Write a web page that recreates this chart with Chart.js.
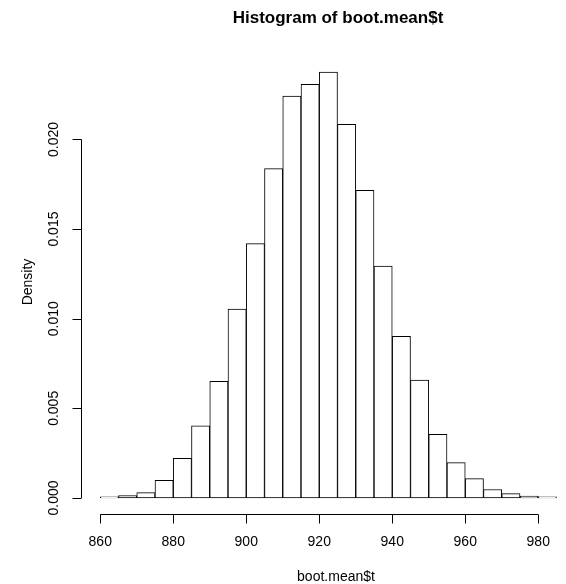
<!DOCTYPE html>
<html>
<head>
<meta charset="utf-8">
<script src="https://cdn.jsdelivr.net/npm/chart.js@4.4.0/dist/chart.umd.min.js"></script>
<style>
  html, body { margin: 0; padding: 0; background: #fff; overflow: hidden; }
  canvas { display: block; }
</style>
</head>
<body>
<canvas id="hist" width="566" height="584"></canvas>
<script>
// bin centres (width 5) and densities
var binCenters = [862.5, 867.5, 872.5, 877.5, 882.5, 887.5, 892.5, 897.5, 902.5, 907.5,
                  912.5, 917.5, 922.5, 927.5, 932.5, 937.5, 942.5, 947.5, 952.5, 957.5,
                  962.5, 967.5, 972.5, 977.5, 982.5];
var density = [0.00006, 0.00013, 0.0003, 0.00099, 0.00221, 0.00402, 0.00651, 0.01054, 0.01419, 0.01837,
               0.02242, 0.02307, 0.02376, 0.02084, 0.01716, 0.01294, 0.00902, 0.00658, 0.00355, 0.00197,
               0.00108, 0.00047, 0.00024, 0.0001, 0.00006];
var xTicks = [860, 880, 900, 920, 940, 960, 980];
var yTicks = [0.000, 0.005, 0.010, 0.015, 0.020];
var yTickLabels = ['0.000', '0.005', '0.010', '0.015', '0.020'];

var FONT = '"Liberation Sans", Arial, Helvetica, sans-serif';

var points = [];
for (var i = 0; i < binCenters.length; i++) {
    points.push({x: binCenters[i], y: density[i]});
}

// R style axes, drawn from the chart scales
var rAxes = {
    id: 'rAxes',
    afterDraw: function (chart) {
        var ctx = chart.ctx;
        var xs = chart.scales.x;
        var ys = chart.scales.y;
        var area = chart.chartArea;
        ctx.save();
        ctx.strokeStyle = '#000';
        ctx.fillStyle = '#000';
        ctx.lineWidth = 1;

        // x axis
        var yAx = Math.round(area.bottom) - 0.5;
        ctx.beginPath();
        ctx.moveTo(xs.getPixelForValue(xTicks[0]), yAx);
        ctx.lineTo(xs.getPixelForValue(xTicks[xTicks.length - 1]), yAx);
        xTicks.forEach(function (t) {
            var px = Math.round(xs.getPixelForValue(t)) + 0.5;
            ctx.moveTo(px, yAx);
            ctx.lineTo(px, yAx + 9);
        });
        ctx.stroke();
        ctx.font = '14px ' + FONT;
        ctx.textAlign = 'center';
        ctx.textBaseline = 'middle';
        xTicks.forEach(function (t) {
            ctx.fillText(String(t), xs.getPixelForValue(t), 542);
        });

        // y axis
        var xAx = Math.round(area.left) - 0.5;
        ctx.beginPath();
        ctx.moveTo(xAx, ys.getPixelForValue(yTicks[0]));
        ctx.lineTo(xAx, ys.getPixelForValue(yTicks[yTicks.length - 1]));
        yTicks.forEach(function (t) {
            var py = Math.round(ys.getPixelForValue(t)) + 0.5;
            ctx.moveTo(xAx, py);
            ctx.lineTo(xAx - 9, py);
        });
        ctx.stroke();
        yTicks.forEach(function (t, k) {
            ctx.save();
            ctx.translate(54.5, ys.getPixelForValue(t));
            ctx.rotate(-Math.PI / 2);
            ctx.fillText(yTickLabels[k], 0, 0);
            ctx.restore();
        });

        // titles
        ctx.fillText('boot.mean$t', 336, 577);
        ctx.save();
        ctx.translate(28, 282);
        ctx.rotate(-Math.PI / 2);
        ctx.fillText('Density', 0, 0);
        ctx.restore();
        ctx.font = 'bold 17px ' + FONT;
        ctx.fillText('Histogram of boot.mean$t', 338, 18);
        ctx.restore();
    }
};

var barGraph = new Chart(document.getElementById('hist'), {
    type: 'bar',
    data: {
        datasets: [{
            data: points,
            backgroundColor: '#ffffff',
            borderColor: '#000000',
            borderWidth: 1,
            borderSkipped: false,
            barPercentage: 1,
            categoryPercentage: 1
        }]
    },
    options: {
        responsive: false,
        animation: false,
        layout: {padding: {left: 82, top: 55, right: 0, bottom: 69}},
        plugins: {legend: {display: false}, tooltip: {enabled: false}},
        scales: {
            x: {type: 'linear', min: 855, max: 987.6, offset: false, display: false},
            y: {type: 'linear', min: -0.00095, max: 0.02471, display: false}
        }
    },
    plugins: [rAxes]
});
</script>
</body>
</html>
